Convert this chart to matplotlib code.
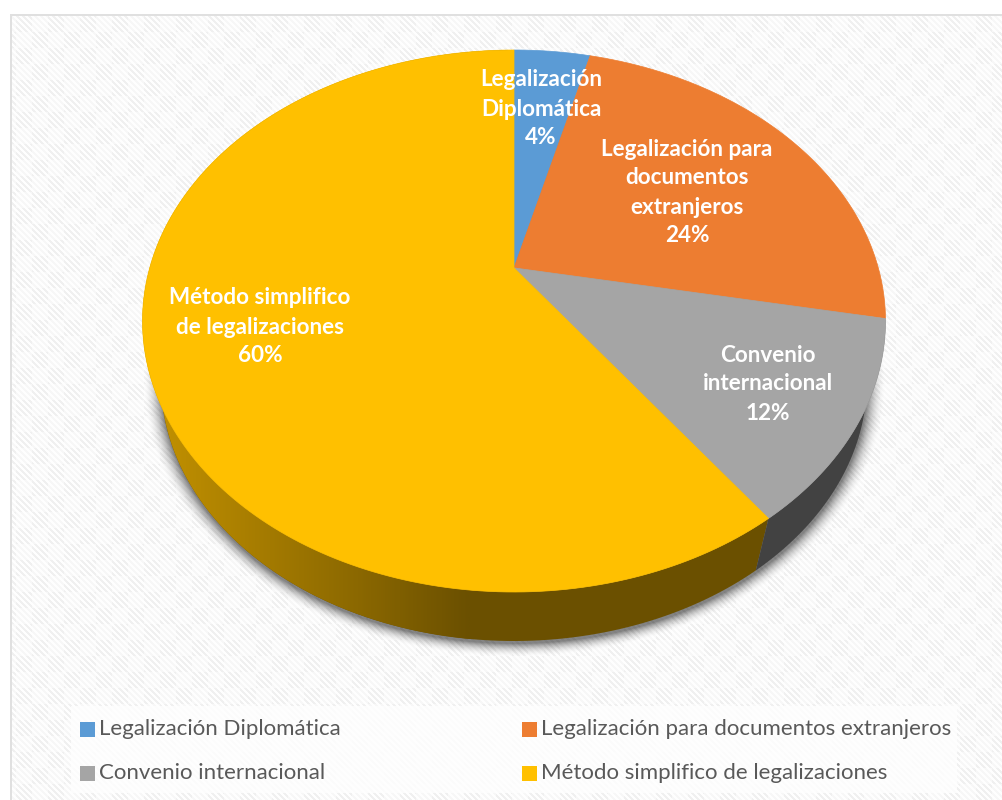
import numpy as np
import matplotlib
matplotlib.use("Agg")
import matplotlib.pyplot as plt
from matplotlib.colors import LinearSegmentedColormap
from matplotlib.patches import Polygon, Rectangle

plt.rcParams['font.family'] = ['Lato', 'DejaVu Sans']

# Data
names = ["Legalización Diplomática", "Legalización para documentos extranjeros",
         "Convenio internacional", "Método simplifico de legalizaciones"]
values = [4, 24, 12, 60]
colors = ["#5B9BD5", "#ED7D31", "#A5A5A5", "#FFC000"]
label_lines = [["Legalización", "Diplomática"],
               ["Legalización para", "documentos", "extranjeros"],
               ["Convenio", "internacional"],
               ["Método simplifico", "de legalizaciones"]]
label_pos = [(541, 80), (687, 149), (768, 355), (260, 298)]

W, H = 1003, 800

# top face ellipse and perspective shift of the pie centre
CX, CY, RX, RY = 514, 321, 371.5, 271
D = 0.196
# lower rim of the 3d pie
CY2, RX2, RY2 = 381, 353, 260


def rim(a, cy, rx, ry):
    # a = clockwise angle from 12 o'clock, circle -> perspective ellipse
    x, y = np.sin(a), np.cos(a)
    den = 1 + D * y
    u = x * np.sqrt(1 - D ** 2) / den
    v = (y + D) / den
    return CX + rx * u, cy - ry * v


def arc(frac0, frac1):
    return np.linspace(frac0, frac1, 200) * 2 * np.pi


fig = plt.figure(figsize=(W / 100, H / 100), dpi=100)
ax = fig.add_axes([0, 0, 1, 1])

# background texture
yy, xx = np.mgrid[0:H, 0:W]
stripe = ((xx - yy) % 6) < 3
cell = ((xx // 16 + yy // 16) % 2) == 0
bg = np.where(stripe, np.where(cell, 240, 247), 254).astype(float)
bg[yy < 14] = 255
bg[xx < 10] = 255
bg[(yy >= 14) & (yy < 16) & (xx >= 10)] = 224
bg[(xx >= 10) & (xx < 12) & (yy >= 14)] = 224
ax.imshow(bg, cmap="gray", vmin=0, vmax=255, extent=(0, W, H, 0),
          interpolation="nearest", aspect="auto", zorder=0)

# soft shadow round the lower rim
r = np.sqrt(((xx - CX) / RX2) ** 2 + ((yy - CY2 - 2) / RY2) ** 2)
dist = (r - 1) * 300
shadow = np.zeros((H, W, 4))
shadow[..., 3] = 0.48 * np.clip(1 - dist / 16, 0, 1) ** 2
ax.imshow(shadow, extent=(0, W, H, 0), interpolation="bilinear", aspect="auto", zorder=1)

# side wall
fracs = np.cumsum([0] + values) / sum(values)
a = arc(fracs[3], 1)
xt, yt = rim(a, CY, RX, RY)
xb, yb = rim(a, CY2, RX2, RY2)
wall = Polygon(np.r_[np.c_[xt, yt], np.c_[xb, yb][::-1]], closed=True, fc="none", ec="none", zorder=2)
ax.add_patch(wall)
wall_cmap = LinearSegmentedColormap.from_list(
    "wall", [(0, "#C29100"), (0.6, "#8F6B00"), (1, "#6B5000")])
grad = ax.imshow(np.linspace(0, 1, 300)[None, :], cmap=wall_cmap, extent=(155, 470, 650, 380),
                 aspect="auto", zorder=2)
grad.set_clip_path(wall)
rest = Polygon(np.r_[np.c_[xt, yt], np.c_[xb, yb][::-1]], closed=True, fc="#6B5000", ec="none", zorder=1.9)
ax.add_patch(rest)

a = arc(fracs[2], fracs[3])
xt, yt = rim(a, CY, RX, RY)
xb, yb = rim(a, CY2, RX2, RY2)
ax.add_patch(Polygon(np.r_[np.c_[xt, yt], np.c_[xb, yb][::-1]], closed=True, fc="#424242", ec="none", zorder=2))

# top face
for i in range(len(values)):
    xs, ys = rim(arc(fracs[i], fracs[i + 1]), CY, RX, RY)
    pts = np.r_[[[CX, CY - RY * D]], np.c_[xs, ys]]
    ax.add_patch(Polygon(pts, closed=True, fc=colors[i], ec=colors[i], lw=0.5, zorder=3))

# data labels
for lines, val, (lx, ly) in zip(label_lines, values, label_pos):
    for j, line in enumerate(lines + [f"{val}%"]):
        ax.text(lx, ly + j * 29, line, color="white", fontsize=16.2, fontweight="bold",
                ha="center", va="center", zorder=5)

# legend
ax.add_patch(Rectangle((71, 706), 886, 87, fc="white", ec="none", alpha=0.75, zorder=3))
legend_x = [80, 522, 80, 522]
legend_y = [729, 729, 773, 773]
for name, col, lx, ly in zip(names, colors, legend_x, legend_y):
    ax.add_patch(Rectangle((lx, ly - 7.5), 15, 15, fc=col, ec="none", zorder=4))
    ax.text(lx + 19, ly, name, color="#595959", fontsize=16, ha="left", va="center", zorder=5)

ax.set_xlim(0, W)
ax.set_ylim(H, 0)
ax.axis("off")
plt.savefig("out.png", dpi=100)
